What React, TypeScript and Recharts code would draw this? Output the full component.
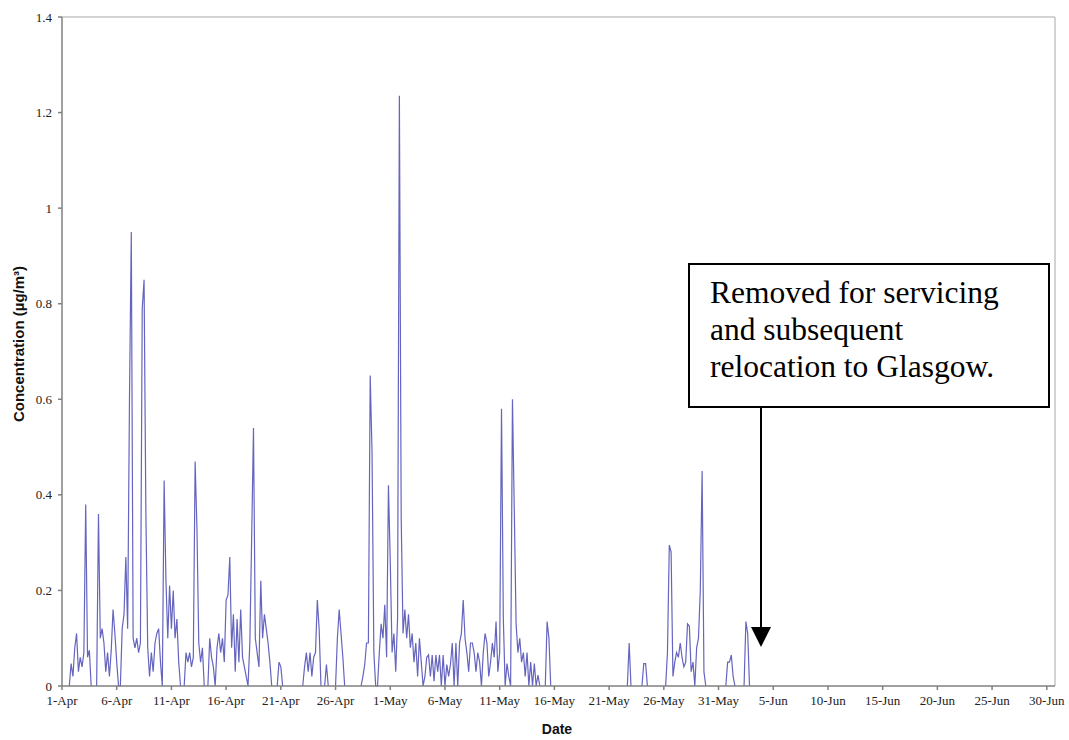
import { LineChart, Line, XAxis, YAxis, ReferenceLine } from "recharts";

// Hourly monitor readings, sampled here every 4 hours (6 slots a day).
// Each block starts at its day offset from 1-Apr; null = no data.
const _ = null;

const apr01 = [_, _, _, _, 0, 0.047, 0.02, 0.08, 0.11, 0.03, 0.06, 0.04, 0.07, 0.38, 0.06, 0.075, 0, _, _, 0, 0.36, 0.1, 0.12, 0.09, 0.03, 0.07, 0.02, 0.075, 0.16, 0.11];
const apr06 = [0.05, 0, 0, 0.12, 0.15, 0.27, 0.12, 0.6, 0.95, 0.1, 0.08, 0.1, 0.07, 0.09, 0.79, 0.85, 0.36, 0.08, 0.02, 0.07, 0.03, 0.09, 0.11, 0.12, 0.05, 0, 0.43, 0.22, 0.1, 0.21];
const apr11 = [0.12, 0.2, 0.1, 0.14, 0.05, 0, _, 0, 0.07, 0.05, 0.07, 0.04, 0.06, 0.47, 0.33, 0.09, 0.05, 0.08, 0, _, 0, 0.1, 0.06, 0.04, 0, 0.08, 0.11, 0.07, 0.1, 0.05];
const apr16 = [0.18, 0.19, 0.27, 0.08, 0.15, 0.03, 0.14, 0.05, 0.16, 0.06, 0.04, 0.02, 0, 0.09, 0.31, 0.54, 0.1, 0.07, 0.04, 0.22, 0.1, 0.15, 0.12, 0.09, 0.05, 0, _, _, 0, 0.05];
const apr21 = [0.04, 0, _, _, _, _, _, _, _, _, _, _, 0, 0.04, 0.07, 0.03, 0.07, 0.02, 0.06, 0.07, 0.18, 0.12, 0, _, 0, 0.045, 0, _, _, _];
const apr26 = [0, 0.1, 0.16, 0.11, 0.06, 0, _, _, _, _, _, _, _, _, 0, 0.02, 0.045, 0.09, 0.09, 0.65, 0.49, 0.07, 0, 0, 0.07, 0.13, 0.1, 0.17, 0.06, 0.42];
const may01 = [0.26, 0.07, 0.11, 0.03, 0.14, 1.235, 0.35, 0.11, 0.16, 0.1, 0.15, 0.08, 0.11, 0.05, 0.09, 0.02, 0.1, 0.05, 0, 0.02, 0.06, 0.065, 0.02, 0.065, 0.01, 0.065, 0.03, 0.065, 0, 0.065];
const may06 = [0, 0.045, 0.02, 0.045, 0.09, 0, 0.09, 0, 0.09, 0.11, 0.18, 0.1, 0.07, 0.03, 0.09, 0.09, 0.07, 0.03, 0.07, 0.05, 0, 0.07, 0.11, 0.09, 0.02, 0.05, 0.09, 0.06, 0.135, 0.03];
const may11 = [0.07, 0.58, 0.14, 0, 0.047, 0.02, 0, 0.6, 0.37, 0.13, 0.07, 0.1, 0.05, 0.07, 0.02, 0.07, 0, 0.05, 0, 0.047, 0, 0.023, 0, _, _, 0, 0.135, 0.1, 0, _];
const may21 = [_, _, _, _, _, _, _, _, _, _, 0, 0.09, 0, _, _, _, _, _, 0, 0.047, 0.047, 0];
const may26 = [_, 0, 0.07, 0.295, 0.28, 0.02, 0.05, 0.07, 0.06, 0.09, 0.06, 0.04, 0.05, 0.13, 0.125, 0.03, 0.05, 0, 0.08, 0.1, 0.2, 0.45, 0.03, 0];
const may31 = [_, _, _, _, 0, 0.05, 0.05, 0.065, 0.02, 0, _, _, _, _, 0, 0.135, 0.11, 0];

const SEGMENTS: [number, (number | null)[]][] = [
  [0, apr01], [5, apr06], [10, apr11], [15, apr16], [20, apr21], [25, apr26],
  [30, may01], [35, may06], [40, may11], [50, may21], [55, may26], [60, may31],
];
const SLOTS_PER_DAY = 6;

const X_TICKS = [0, 5, 10, 15, 20, 25, 30, 35, 40, 45, 50, 55, 60, 65, 70, 75, 80, 85, 90];
const X_LABELS = ["1-Apr", "6-Apr", "11-Apr", "16-Apr", "21-Apr", "26-Apr", "1-May", "6-May", "11-May", "16-May", "21-May", "26-May", "31-May", "5-Jun", "10-Jun", "15-Jun", "20-Jun", "25-Jun", "30-Jun"];
const Y_TICKS = [0, 0.2, 0.4, 0.6, 0.8, 1, 1.2, 1.4];
const X_MAX = 90.75;

const data = SEGMENTS.flatMap(([start, vals]) =>
  vals.map((v, i) => ({ day: start + i / SLOTS_PER_DAY, conc: v }))
);

const AXIS = "#808080";
const TICK = { fill: "#222", fontSize: 13, fontFamily: "'Liberation Serif', serif" };
const TITLE = { fontFamily: "'Liberation Sans', Arial, sans-serif", fontWeight: 700, color: "#111" } as const;

export default function App() {
  return (
    <div style={{ position: "absolute", left: 0, top: 0, width: 1069, height: 740, background: "#fff" }}>
      <LineChart width={1069} height={740} data={data} margin={{ top: 17, right: 14, bottom: 0, left: 0 }}>
        <XAxis
          dataKey="day"
          type="number"
          domain={[0, X_MAX]}
          ticks={X_TICKS}
          interval={0}
          tickFormatter={(d) => X_LABELS[X_TICKS.indexOf(d)]}
          height={54}
          tick={TICK}
          tickSize={4}
          tickMargin={6}
          stroke={AXIS}
          strokeWidth={1.5}
        />
        <YAxis
          type="number"
          domain={[0, 1.4]}
          ticks={Y_TICKS}
          interval={0}
          tickFormatter={(v) => String(v)}
          width={62}
          tick={TICK}
          tickSize={4}
          tickMargin={6}
          stroke={AXIS}
          strokeWidth={1.5}
        />
        <ReferenceLine y={1.4} stroke="#c4c4c4" strokeWidth={1.5} />
        <ReferenceLine x={X_MAX} stroke="#c4c4c4" strokeWidth={1.5} />
        <Line
          dataKey="conc"
          type="linear"
          stroke="#6565bf"
          strokeWidth={1.2}
          dot={false}
          connectNulls={false}
          isAnimationActive={false}
        />
      </LineChart>

      {/* axis titles */}
      <div style={{ ...TITLE, position: "absolute", left: 0, top: 721, width: 1114, textAlign: "center", fontSize: 14 }}>Date</div>
      <div
        style={{
          ...TITLE,
          position: "absolute",
          left: 18,
          top: 344,
          fontSize: 15,
          whiteSpace: "nowrap",
          transform: "translate(-50%, -50%) rotate(-90deg)",
        }}
      >
        Concentration (µg/m³)
      </div>

      {/* annotation */}
      <div
        style={{
          position: "absolute",
          left: 688,
          top: 263,
          width: 338,
          height: 132,
          border: "2px solid #000",
          background: "#fff",
          fontFamily: "'Liberation Serif', 'Times New Roman', serif",
          fontSize: 31.5,
          lineHeight: "37px",
          color: "#000",
          padding: "9px 0 0 20px",
          boxSizing: "content-box",
          whiteSpace: "nowrap",
        }}
      >
        Removed for servicing
        <br />
        and subsequent
        <br />
        relocation to Glasgow.
      </div>
      <svg style={{ position: "absolute", left: 0, top: 0, pointerEvents: "none" }} width={1069} height={740}>
        <line x1={761} y1={408} x2={761} y2={628} stroke="#000" strokeWidth={2} />
        <polygon points="751,627 771,627 761,647" fill="#000" />
      </svg>
    </div>
  );
}
